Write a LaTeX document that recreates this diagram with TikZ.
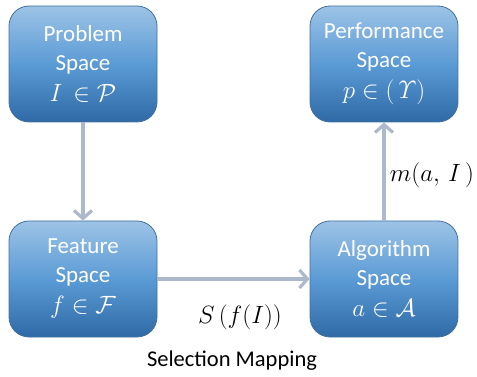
\RequirePackage{fix-cm}
\documentclass[tikz,border=0pt]{standalone}
\usepackage{fontspec}
\setmainfont{Carlito}
\usetikzlibrary{arrows.meta}
\definecolor{boxtop}{HTML}{9DC3E6}
\definecolor{boxmid}{HTML}{5B9BD5}
\definecolor{boxbot}{HTML}{2F6AA6}
\definecolor{boxedge}{HTML}{41719C}
\definecolor{arrgray}{HTML}{ADB9CA}
\newcommand{\bigmath}[1]{{\fontsize{25}{29}\selectfont $#1$}}
\tikzset{
  spacebox/.style={draw=boxedge, line width=0.8pt, rounded corners=20pt,
    minimum width=148pt, minimum height=116pt, inner sep=0pt,
    top color=boxtop, bottom color=boxbot, middle color=boxmid,
    text=white, align=center, font=\fontsize{23}{29}\selectfont},
  conn/.style={draw=arrgray, line width=3.2pt,
    -{Straight Barb[length=8pt, width=18pt, line width=3.2pt]}},
  mathlabel/.style={font=\fontsize{25}{29}\selectfont, inner sep=0pt},
  caption/.style={font=\fontsize{22.5}{26}\selectfont, inner sep=0pt}
}
\begin{document}
\begin{tikzpicture}[x=1pt, y=-1pt]
\useasboundingbox (0,0) rectangle (477,377);
\node[spacebox] (prob) at (83,64) {Problem\\Space\\[2pt]\bigmath{I\,\in\mathcal{P}}};
\node[spacebox] (perf) at (384,64) {Performance\\Space\\[2pt]\bigmath{p\in(\,\mathnormal{\Upsilon})}};
\node[spacebox] (feat) at (83,279) {Feature\\Space\\[2pt]\bigmath{f\in\mathcal{F}}};
\node[spacebox] (alg) at (384,279) {Algorithm\\Space\\[2pt]\bigmath{a\in\mathcal{A}}};
\draw[conn] (prob) -- (feat);
\draw[conn] (feat) -- (alg);
\draw[conn] (alg) -- (perf);
\node[mathlabel] (sel) at (240,317) {$S\,(f(I))$};
\node[mathlabel] (meas) at (432,175) {$m(a,\,I\,)$};
\node[caption] (cap) at (232,361) {Selection Mapping};
\end{tikzpicture}
\end{document}
